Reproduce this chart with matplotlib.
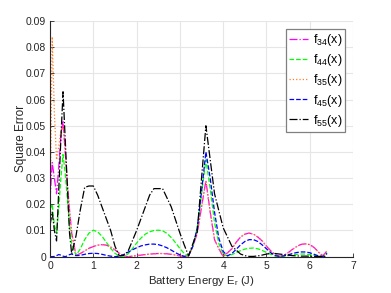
import matplotlib
matplotlib.use("Agg")
import matplotlib.pyplot as plt
import numpy as np

energy = [0, 0.05, 0.1, 0.15, 0.2, 0.25, 0.3, 0.35, 0.4, 0.45, 0.5,
          0.6, 0.7, 0.8, 0.9, 1.0, 1.1, 1.2, 1.3, 1.4, 1.5, 1.6, 1.7, 1.8, 1.9,
          2.0, 2.1, 2.2, 2.3, 2.4, 2.5, 2.6, 2.7, 2.8, 2.9, 3.0, 3.1, 3.2, 3.3,
          3.4, 3.5, 3.6, 3.7, 3.8, 3.9, 4.0, 4.1, 4.2, 4.3, 4.4, 4.5, 4.6, 4.7,
          4.8, 4.9, 5.0, 5.1, 5.2, 5.3, 5.4, 5.5, 5.6, 5.7, 5.8, 5.9, 6.0, 6.1,
          6.2, 6.3, 6.4]

f34 = [0.022, 0.036, 0.030, 0.024, 0.034, 0.046, 0.052, 0.040, 0.028, 0.018, 0.009,
       0.0005, 0.0012, 0.0022, 0.0032, 0.0039, 0.0044, 0.0046, 0.0044, 0.0037, 0.0026,
       0.0013, 0.0003, 0.0, 0.0002, 0.0004, 0.0006, 0.0008, 0.0010, 0.0011, 0.0012,
       0.0012, 0.0011, 0.0009, 0.0006, 0.0003, 0.0001, 0.0003, 0.004, 0.009, 0.019,
       0.029, 0.017, 0.0065, 0.003, 0.0, 0.0015, 0.003, 0.0055, 0.0075, 0.0086,
       0.009, 0.0086, 0.0075, 0.006, 0.004, 0.0022, 0.0008, 0.0001, 0.0005, 0.0015,
       0.0028, 0.0039, 0.0047, 0.0049, 0.0046, 0.0035, 0.0018, 0.0003, 0.0022]

f44 = [0.018, 0.020, 0.012, 0.009, 0.018, 0.030, 0.039, 0.032, 0.022, 0.012, 0.005,
       0.0005, 0.003, 0.0065, 0.009, 0.0101, 0.0095, 0.0078, 0.0055, 0.0032, 0.0013,
       0.0002, 0.0002, 0.0010, 0.0030, 0.0052, 0.0071, 0.0086, 0.0095, 0.0100, 0.0101,
       0.0099, 0.0089, 0.0073, 0.0053, 0.0031, 0.0012, 0.0003, 0.004, 0.011, 0.024,
       0.037, 0.026, 0.013, 0.005, 0.001, 0.0003, 0.0008, 0.0015, 0.0023, 0.0029,
       0.0032, 0.0033, 0.0030, 0.0024, 0.0016, 0.0009, 0.0003, 0.0001, 0.0002, 0.0004,
       0.0007, 0.0009, 0.0010, 0.0010, 0.0008, 0.0005, 0.0002, 0.0001, 0.0015]

f35 = [0.015, 0.084, 0.055, 0.037, 0.042, 0.048, 0.050, 0.040, 0.028, 0.018, 0.009,
       0.0005, 0.0012, 0.0022, 0.0032, 0.0039, 0.0044, 0.0046, 0.0044, 0.0037, 0.0026,
       0.0013, 0.0003, 0.0, 0.0002, 0.0004, 0.0006, 0.0008, 0.0010, 0.0011, 0.0012,
       0.0012, 0.0011, 0.0009, 0.0006, 0.0003, 0.0001, 0.0003, 0.004, 0.009, 0.019,
       0.029, 0.017, 0.0065, 0.003, 0.0, 0.0015, 0.003, 0.0055, 0.0075, 0.0086,
       0.009, 0.0086, 0.0075, 0.006, 0.004, 0.0022, 0.0008, 0.0001, 0.0005, 0.0015,
       0.0028, 0.0039, 0.0047, 0.0049, 0.0046, 0.0035, 0.0018, 0.0003, 0.0022]

f45 = [0.0, 0.0, 0.0001, 0.0004, 0.0008, 0.0006, 0.0002, 0.0, 0.0003, 0.0008, 0.0010,
       0.0004, 0.0005, 0.0009, 0.0012, 0.0013, 0.0012, 0.0009, 0.0005, 0.0002, 0.0,
       0.0002, 0.0008, 0.0017, 0.0026, 0.0034, 0.0041, 0.0045, 0.0048, 0.0048, 0.0046,
       0.0041, 0.0034, 0.0025, 0.0015, 0.0007, 0.0001, 0.0004, 0.004, 0.011, 0.025,
       0.040, 0.030, 0.017, 0.007, 0.002, 0.0003, 0.0012, 0.0028, 0.0045, 0.0058,
       0.0065, 0.0065, 0.0058, 0.0045, 0.0030, 0.0015, 0.0004, 0.0001, 0.0003, 0.0007,
       0.0012, 0.0016, 0.0018, 0.0018, 0.0015, 0.0009, 0.0003, 0.0, 0.0012]

f55 = [0.012, 0.017, 0.010, 0.006, 0.025, 0.045, 0.063, 0.045, 0.027, 0.009, 0.001,
       0.008, 0.018, 0.0265, 0.027, 0.027, 0.0235, 0.019, 0.0145, 0.010, 0.004,
       0.0003, 0.0005, 0.002, 0.006, 0.010, 0.0145, 0.019, 0.0235, 0.026, 0.026,
       0.026, 0.0225, 0.019, 0.014, 0.009, 0.0045, 0.0003, 0.005, 0.0095, 0.030,
       0.050, 0.037, 0.024, 0.0175, 0.011, 0.0075, 0.004, 0.0025, 0.001, 0.0004,
       0.0001, 0.0001, 0.0003, 0.0006, 0.001, 0.0012, 0.0012, 0.001, 0.0008, 0.0006,
       0.0004, 0.0003, 0.0002, 0.0002, 0.0002, 0.0001, 0.0001, 0.0001, 0.0001]

labels = [r"f$_{34}$(x)", r"f$_{44}$(x)", r"f$_{35}$(x)", r"f$_{45}$(x)", r"f$_{55}$(x)"]
xticks = [0, 1, 2, 3, 4, 5, 6, 7]
yticks = [0, 0.01, 0.02, 0.03, 0.04, 0.05, 0.06, 0.07, 0.08, 0.09]

plt.rcParams['font.family'] = ['Liberation Sans', 'DejaVu Sans']
plt.rcParams['mathtext.fontset'] = 'custom'
plt.rcParams['mathtext.rm'] = 'Liberation Sans'
plt.rcParams['mathtext.it'] = 'Liberation Sans'

fig = plt.figure(figsize=(3.91, 2.93), dpi=100)
ax = fig.add_axes([0.128, 0.124, 0.775, 0.804])

series = [f34, f44, f35, f45, f55]
styles = [dict(color='#FF00FF', ls='-.'),
          dict(color='#00FF00', ls='--'),
          dict(color='#FF7F27', ls=':'),
          dict(color='#0000FF', ls='--'),
          dict(color='black', ls='-.')]
for ys, st, lab in zip(series, styles, labels):
    ax.plot(energy, ys, lw=0.9, label=lab, **st)

ax.set_xlim(0, 7)
ax.set_ylim(0, 0.09)
ax.set_xticks(xticks)
ax.set_yticks(yticks)
ax.set_xticklabels([str(t) for t in xticks])
ax.set_yticklabels(['0'] + ['%.2f' % t for t in yticks[1:]])
ax.grid(True, color='#E6E6E6', lw=0.8)
ax.set_axisbelow(True)
for s in ['top', 'right']:
    ax.spines[s].set_visible(False)
for s in ['left', 'bottom']:
    ax.spines[s].set_color('#262626')
    ax.spines[s].set_linewidth(0.8)
ax.tick_params(direction='in', length=3, width=0.6, colors='#262626',
               labelsize=7.5, pad=3)
ax.set_xlabel(r"Battery Energy E$_r$ (J)", fontsize=8.2, color='#262626', labelpad=2)
ax.set_ylabel("Square Error", fontsize=8.5, color='#262626', labelpad=-1)

leg = ax.legend(loc='upper right', bbox_to_anchor=(0.974, 0.966), fontsize=9,
                handlelength=1.5, handletextpad=0.35, labelspacing=0.33,
                borderpad=0.25, borderaxespad=0.0, fancybox=False, framealpha=1)
leg.get_frame().set_edgecolor('#808080')
leg.get_frame().set_linewidth(0.9)

fig.savefig("out.png", dpi=100)
